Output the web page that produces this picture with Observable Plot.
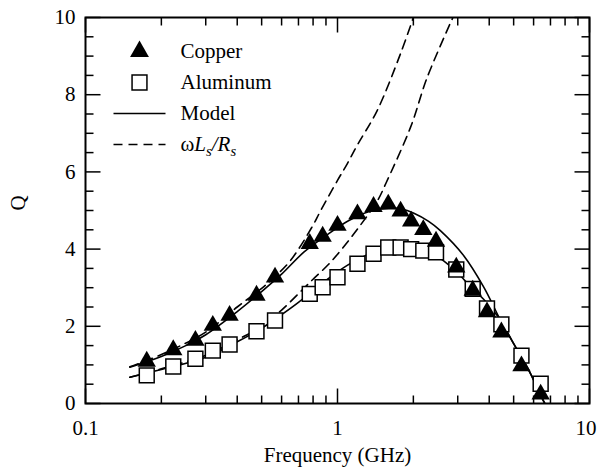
<!DOCTYPE html>
<html><head><meta charset="utf-8">
<script src="https://cdn.jsdelivr.net/npm/d3@7"></script>
<script src="https://cdn.jsdelivr.net/npm/@observablehq/plot@0.6"></script>
<style>body{margin:0;background:#fff} svg{display:block} svg text{font-family:"Liberation Serif","Times New Roman",serif !important}</style>
</head><body><div id="chart"></div>
<script>
// Measured frequencies (GHz), shared by both metals
const freqGHz = [0.175, 0.223, 0.273, 0.32, 0.373, 0.477, 0.565, 0.776, 0.873, 1.0, 1.2, 1.39, 1.59, 1.78, 1.96, 2.19, 2.46, 2.96, 3.44, 3.92, 4.47, 5.37, 6.40];
const copperQ   = [1.09, 1.39, 1.63, 2.02, 2.28, 2.80, 3.27, 4.14, 4.33, 4.61, 4.91, 5.10, 5.16, 4.98, 4.72, 4.50, 4.20, 3.53, 2.93, 2.37, 1.85, 0.97, 0.24];
const aluminumQ = [0.73, 0.96, 1.16, 1.37, 1.53, 1.87, 2.15, 2.84, 3.01, 3.27, 3.62, 3.88, 4.04, 4.04, 4.00, 3.96, 3.92, 3.47, 2.97, 2.46, 2.05, 1.24, 0.51];

// Model curves
const copperModelF = [0.15, 0.2, 0.25, 0.3, 0.4, 0.5, 0.6, 0.735, 0.9, 1.11, 1.35, 1.6, 1.8, 2.01, 2.3, 2.56, 3.17, 3.81, 4.44, 5.0, 5.84, 6.46, 6.65];
const copperModelQ = [0.94, 1.22, 1.5, 1.78, 2.38, 2.9, 3.35, 3.92, 4.35, 4.74, 4.98, 5.06, 5.04, 4.93, 4.72, 4.48, 3.83, 3.01, 2.15, 1.55, 0.77, 0.16, 0.0];
const aluminumModelF = [0.15, 0.2, 0.3, 0.4, 0.5, 0.57, 0.7, 0.805, 1.093, 1.35, 1.72, 2.0, 2.34, 2.63, 2.98, 3.4, 3.8, 4.44, 5.0, 5.84, 6.46, 6.65];
const aluminumModelQ = [0.68, 0.88, 1.2, 1.6, 1.95, 2.2, 2.62, 2.95, 3.58, 3.88, 4.01, 4.0, 3.92, 3.70, 3.40, 3.0, 2.7, 2.15, 1.55, 0.77, 0.16, 0.0];

// ωLs/Rs curves
const copperRatioF = [0.15, 0.2, 0.3, 0.4, 0.5, 0.55, 0.65, 0.8, 0.85, 1.0, 1.093, 1.2, 1.437, 1.778, 2.0];
const copperRatioQ = [0.95, 1.27, 1.85, 2.5, 2.98, 3.22, 3.70, 4.62, 4.95, 5.78, 6.21, 6.7, 7.59, 9.06, 10.0];
const aluminumRatioF = [0.15, 0.2, 0.3, 0.4, 0.5, 0.6, 0.714, 0.8, 0.92, 1.04, 1.21, 1.44, 1.56, 1.95, 2.27, 2.87];
const aluminumRatioQ = [0.68, 0.9, 1.25, 1.65, 2.0, 2.42, 2.9, 3.22, 3.6, 4.0, 4.55, 5.25, 5.72, 7.16, 8.45, 10.0];

// Axes
const xTicksMajor = [0.1, 1, 10];
const xTickLabels = ["0.1", "1", "10"];
const xTicksMinor = [0.2, 0.3, 0.4, 0.5, 0.6, 0.7, 0.8, 0.9, 2, 3, 4, 5, 6, 7, 8, 9];
const yTicksMajor = [0, 2, 4, 6, 8, 10];
const yTicksMinor = [0.5, 1, 1.5, 2.5, 3, 3.5, 4.5, 5, 5.5, 6.5, 7, 7.5, 8.5, 9, 9.5];
const xLabel = "Frequency (GHz)";
const yLabel = "Q";
const legendLabels = ["Copper", "Aluminum", "Model", "ωLs/Rs"];

const pts = (fs, qs) => fs.map((f, i) => ({f, q: qs[i]}));
const seg = (x0, y0, x1, y1) => ({draw(c) { c.moveTo(x0, y0); c.lineTo(x1, y1); }});
const ink = "black";
const serif = "'Liberation Serif','Times New Roman',serif";
const txt = {fill: ink, fontFamily: serif, fontSize: 21};
const lineStyle = {x: "f", y: "q", curve: "catmull-rom", stroke: ink, strokeWidth: 1.6, clip: true};
const tickStyle = {stroke: ink, strokeWidth: 1.5, fill: "none"};
const legendDy = [34, 65, 96, 127];

const chart = Plot.plot({
  width: 598, height: 469,
  marginLeft: 85, marginRight: 9, marginTop: 17, marginBottom: 66,
  x: {type: "log", domain: [0.1, 10], axis: null},
  y: {domain: [0, 10], axis: null},
  style: {fontFamily: serif, fontSize: "21px", color: ink, background: "white"},
  marks: [
    Plot.line(pts(aluminumRatioF, aluminumRatioQ), {...lineStyle, strokeDasharray: "9,6"}),
    Plot.line(pts(copperRatioF, copperRatioQ), {...lineStyle, strokeDasharray: "9,6"}),
    Plot.line(pts(aluminumModelF, aluminumModelQ), lineStyle),
    Plot.line(pts(copperModelF, copperModelQ), lineStyle),
    Plot.dot(pts(freqGHz, aluminumQ), {x: "f", y: "q", symbol: "square", r: 8.4, fill: "white", stroke: ink, strokeWidth: 1.5}),
    Plot.dot(pts(freqGHz, copperQ), {x: "f", y: "q", symbol: "triangle", r: 6.8, fill: ink}),
    // inward ticks on all four sides
    Plot.dot(yTicksMajor, {y: d => d, frameAnchor: "left", symbol: seg(0, 0, 15, 0), ...tickStyle}),
    Plot.dot(yTicksMinor, {y: d => d, frameAnchor: "left", symbol: seg(0, 0, 8, 0), ...tickStyle}),
    Plot.dot(yTicksMajor, {y: d => d, frameAnchor: "right", symbol: seg(0, 0, -15, 0), ...tickStyle}),
    Plot.dot(yTicksMinor, {y: d => d, frameAnchor: "right", symbol: seg(0, 0, -8, 0), ...tickStyle}),
    Plot.dot(xTicksMajor, {x: d => d, frameAnchor: "bottom", symbol: seg(0, 0, 0, -15), ...tickStyle}),
    Plot.dot(xTicksMinor, {x: d => d, frameAnchor: "bottom", symbol: seg(0, 0, 0, -8), ...tickStyle}),
    Plot.dot(xTicksMajor, {x: d => d, frameAnchor: "top", symbol: seg(0, 0, 0, 15), ...tickStyle}),
    Plot.dot(xTicksMinor, {x: d => d, frameAnchor: "top", symbol: seg(0, 0, 0, 8), ...tickStyle}),
    Plot.frame({stroke: ink, strokeWidth: 2}),
    // tick labels
    Plot.text(yTicksMajor, {y: d => d, text: d => String(d), frameAnchor: "left", dx: -10, textAnchor: "end", lineAnchor: "middle", ...txt}),
    Plot.text(xTicksMajor.slice(0, 2), {x: d => d, text: (d, i) => xTickLabels[i], frameAnchor: "bottom", dy: 25, lineAnchor: "middle", ...txt}),
    Plot.text(xTicksMajor.slice(2), {x: d => d, text: (d, i) => xTickLabels[i + 2], frameAnchor: "bottom", dy: 25, dx: 7, textAnchor: "end", lineAnchor: "middle", ...txt}),
    Plot.text([xLabel], {text: d => d, frameAnchor: "bottom", dy: 52, lineAnchor: "middle", ...txt}),
    Plot.text([yLabel], {text: d => d, frameAnchor: "left", dx: -67, rotate: -90, lineAnchor: "middle", ...txt}),
    // legend
    Plot.dot([0], {frameAnchor: "top-left", dx: 54, dy: legendDy[0], symbol: "triangle", r: 7, fill: ink}),
    Plot.dot([0], {frameAnchor: "top-left", dx: 54, dy: legendDy[1], symbol: "square", r: 8.4, fill: "white", stroke: ink, strokeWidth: 1.5}),
    Plot.dot([0], {frameAnchor: "top-left", dx: 54, dy: legendDy[2], symbol: seg(-26, 0, 26, 0), stroke: ink, strokeWidth: 1.6, fill: "none"}),
    Plot.dot([0], {frameAnchor: "top-left", dx: 54, dy: legendDy[3], symbol: seg(-26, 0, 26, 0), stroke: ink, strokeWidth: 1.6, fill: "none", strokeDasharray: "9,6"}),
    ...legendLabels.map((label, i) => Plot.text([label], {text: d => d, frameAnchor: "top-left", dx: 95, dy: legendDy[i], textAnchor: "start", lineAnchor: "middle", ...txt}))
  ]
});

d3.select(chart).selectAll("text").attr("font-family", serif);

// Format ωLs/Rs with italics and subscripts
d3.select(chart).selectAll("text").filter(function() { return this.textContent === legendLabels[3]; }).each(function() {
  const t = d3.select(this);
  t.text(null);
  t.append("tspan").text("ω");
  t.append("tspan").attr("font-style", "italic").text("L");
  t.append("tspan").attr("font-style", "italic").attr("font-size", "0.7em").attr("dy", "5").text("s");
  t.append("tspan").attr("font-style", "italic").attr("dy", "-5").text("/R");
  t.append("tspan").attr("font-style", "italic").attr("font-size", "0.7em").attr("dy", "5").text("s");
});

document.getElementById("chart").append(chart);
</script>
</body></html>
